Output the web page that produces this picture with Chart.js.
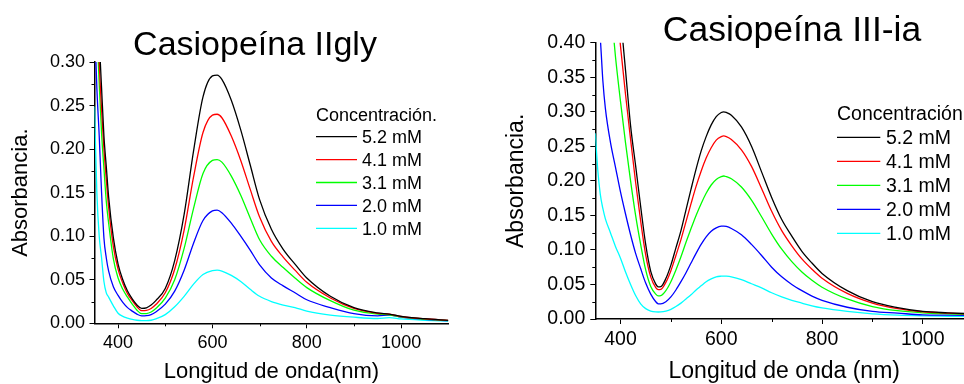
<!DOCTYPE html>
<html>
<head>
<meta charset="utf-8">
<script src="https://cdn.jsdelivr.net/npm/chart.js@4.4.1/dist/chart.umd.min.js"></script>
<style>
  html, body { margin: 0; padding: 0; background: #fff; overflow: hidden; }
  #boxLeft { position: absolute; left: 0; top: 0; }
  #boxRight { position: absolute; left: 482px; top: 0; }
</style>
</head>
<body>
<div id="boxLeft"><canvas id="chartLeft" width="482" height="384"></canvas></div>
<div id="boxRight"><canvas id="chartRight" width="510" height="384"></canvas></div>
<script>
// ---- data ----
const concLabels = ['5.2 mM', '4.1 mM', '3.1 mM', '2.0 mM', '1.0 mM'];
const lineColors = ['#000000', '#ff0000', '#00ff00', '#0000ff', '#00ffff'];
const xTickValues = [400, 600, 800, 1000];

// Casiopeina IIgly
const waveIIgly = [350, 355, 360, 365, 370, 375, 380, 390, 400, 410, 420, 430, 440, 450, 460, 470, 480, 500, 520, 540,
  560, 580, 600, 610, 620, 640, 660, 680, 700, 725, 750, 775, 800, 850, 900, 950, 975, 1000, 1050, 1100];
const iigly52 = [0.50, 0.42, 0.33, 0.27, 0.215, 0.18, 0.145, 0.098, 0.068, 0.050, 0.037, 0.028, 0.021, 0.0172, 0.0178, 0.021, 0.026, 0.040, 0.072, 0.125,
  0.198, 0.260, 0.284, 0.285, 0.280, 0.256, 0.222, 0.182, 0.142, 0.108, 0.085, 0.068, 0.052, 0.031, 0.018, 0.012, 0.0105, 0.008, 0.0053, 0.0033];
const iigly41 = [0.45, 0.38, 0.30, 0.245, 0.200, 0.165, 0.133, 0.088, 0.062, 0.046, 0.034, 0.026, 0.019, 0.0145, 0.0148, 0.017, 0.0215, 0.035, 0.062, 0.107,
  0.168, 0.219, 0.239, 0.240, 0.236, 0.215, 0.187, 0.154, 0.122, 0.094, 0.076, 0.061, 0.047, 0.029, 0.017, 0.0115, 0.0105, 0.0078, 0.0052, 0.0033];
const iigly31 = [0.42, 0.34, 0.275, 0.218, 0.178, 0.140, 0.115, 0.074, 0.052, 0.039, 0.030, 0.022, 0.015, 0.011, 0.0112, 0.013, 0.017, 0.029, 0.050, 0.086,
  0.132, 0.172, 0.187, 0.188, 0.185, 0.169, 0.147, 0.121, 0.096, 0.077, 0.064, 0.052, 0.041, 0.026, 0.015, 0.0105, 0.0098, 0.0073, 0.0048, 0.003];
const iigly20 = [0.35, 0.27, 0.215, 0.15, 0.098, 0.075, 0.060, 0.042, 0.032, 0.024, 0.018, 0.014, 0.0105, 0.0085, 0.0087, 0.010, 0.013, 0.022, 0.037, 0.061,
  0.092, 0.118, 0.129, 0.130, 0.127, 0.115, 0.100, 0.084, 0.067, 0.052, 0.043, 0.035, 0.027, 0.018, 0.011, 0.0085, 0.0095, 0.007, 0.0045, 0.003];
const iigly10 = [0.249, 0.15, 0.10, 0.075, 0.048, 0.035, 0.030, 0.020, 0.0115, 0.008, 0.006, 0.0045, 0.0035, 0.003, 0.003, 0.0035, 0.005, 0.010, 0.019, 0.031,
  0.045, 0.056, 0.0605, 0.061, 0.060, 0.055, 0.048, 0.039, 0.031, 0.025, 0.021, 0.018, 0.014, 0.0095, 0.007, 0.0055, 0.0065, 0.005, 0.0035, 0.0025];

// Casiopeina III-ia
const waveIIIia = [350, 355, 360, 365, 370, 380, 390, 400, 410, 420, 430, 440, 450, 460, 470, 475, 480, 490, 500, 510,
  520, 530, 540, 550, 560, 570, 580, 590, 600, 605, 610, 620, 640, 660, 680, 700, 720, 740, 760, 780,
  800, 850, 900, 950, 1000, 1050, 1100];
const iiiia52 = [0.85, 0.81, 0.77, 0.73, 0.69, 0.61, 0.53, 0.44, 0.36, 0.28, 0.222, 0.163, 0.108, 0.069, 0.0505, 0.0465, 0.0468, 0.0585, 0.078, 0.103,
  0.128, 0.158, 0.188, 0.217, 0.243, 0.264, 0.281, 0.293, 0.299, 0.300, 0.299, 0.295, 0.278, 0.250, 0.213, 0.176, 0.144, 0.120, 0.098, 0.081,
  0.066, 0.041, 0.025, 0.0165, 0.011, 0.009, 0.0075];
const iiiia41 = [0.80, 0.76, 0.72, 0.68, 0.64, 0.56, 0.475, 0.395, 0.325, 0.26, 0.198, 0.142, 0.093, 0.061, 0.0455, 0.0425, 0.0428, 0.053, 0.070, 0.092,
  0.115, 0.141, 0.167, 0.192, 0.214, 0.233, 0.248, 0.259, 0.264, 0.265, 0.264, 0.260, 0.245, 0.221, 0.189, 0.156, 0.128, 0.106, 0.087, 0.072,
  0.059, 0.037, 0.023, 0.015, 0.0105, 0.0085, 0.007];
const iiiia31 = [0.70, 0.66, 0.62, 0.58, 0.54, 0.46, 0.38, 0.315, 0.255, 0.200, 0.150, 0.108, 0.071, 0.047, 0.036, 0.0335, 0.0338, 0.041, 0.054, 0.071,
  0.090, 0.111, 0.131, 0.150, 0.167, 0.182, 0.194, 0.202, 0.206, 0.207, 0.206, 0.203, 0.191, 0.172, 0.148, 0.123, 0.101, 0.083, 0.068, 0.056,
  0.046, 0.029, 0.018, 0.012, 0.009, 0.0075, 0.0065];
const iiiia20 = [0.47, 0.44, 0.405, 0.345, 0.305, 0.256, 0.22, 0.184, 0.152, 0.122, 0.095, 0.073, 0.052, 0.036, 0.025, 0.022, 0.0218, 0.025, 0.032, 0.042,
  0.054, 0.067, 0.081, 0.095, 0.108, 0.119, 0.127, 0.132, 0.1345, 0.1346, 0.134, 0.131, 0.122, 0.108, 0.092, 0.075, 0.061, 0.050, 0.041, 0.033,
  0.027, 0.017, 0.011, 0.0085, 0.006, 0.0055, 0.005];
const iiiia10 = [0.269, 0.215, 0.18, 0.16, 0.145, 0.125, 0.105, 0.088, 0.068, 0.050, 0.034, 0.022, 0.015, 0.0115, 0.0102, 0.0101, 0.0102, 0.0115, 0.014, 0.018,
  0.023, 0.029, 0.035, 0.042, 0.048, 0.054, 0.058, 0.061, 0.062, 0.0622, 0.062, 0.061, 0.057, 0.051, 0.045, 0.038, 0.032, 0.027, 0.023, 0.019,
  0.016, 0.011, 0.0075, 0.0055, 0.0045, 0.004, 0.0035];

const FONT = "'Liberation Sans', Arial, sans-serif";

// title, legend and the small minor ticks, Origin style
const decorPlugin = {
  id: 'decor',
  afterDraw(chart, args, o) {
    const ctx = chart.ctx;
    const xs = chart.scales.x, ys = chart.scales.y;
    ctx.save();
    ctx.fillStyle = '#000';
    ctx.font = o.titleSize + 'px ' + FONT;
    ctx.textAlign = 'center';
    ctx.textBaseline = 'alphabetic';
    ctx.fillText(o.title, o.titleX, o.titleY);

    ctx.strokeStyle = '#000';
    ctx.lineWidth = 1;
    o.minorX.forEach(v => {
      const px = Math.round(xs.getPixelForValue(v)) + 0.5;
      ctx.beginPath(); ctx.moveTo(px, xs.top); ctx.lineTo(px, xs.top + 3); ctx.stroke();
    });
    o.minorY.forEach(v => {
      const py = Math.round(ys.getPixelForValue(v)) + 0.5;
      ctx.beginPath(); ctx.moveTo(ys.right - 3, py); ctx.lineTo(ys.right, py); ctx.stroke();
    });

    // legend
    const lg = o.legend;
    const cap = lg.size * 0.36;
    ctx.font = lg.size + 'px ' + FONT;
    ctx.textAlign = 'left';
    ctx.fillText(lg.title, lg.x, lg.titleY + cap);
    chart.data.datasets.forEach((ds, i) => {
      const y = lg.rowY + i * lg.gap;
      ctx.strokeStyle = ds.borderColor;
      ctx.lineWidth = 1.3;
      ctx.beginPath(); ctx.moveTo(lg.x, y); ctx.lineTo(lg.x + lg.len, y); ctx.stroke();
      ctx.fillText(ds.label, lg.x + lg.len + lg.pad, y + cap);
    });
    ctx.restore();
  }
};

function makeSets(wave, series) {
  return series.map((vals, i) => ({
    label: concLabels[i],
    data: vals.map((v, k) => ({x: wave[k], y: v})),
    borderColor: lineColors[i],
    borderWidth: 1.3,
    pointRadius: 0,
    cubicInterpolationMode: 'monotone',
    fill: false
  }));
}

function makeOptions(c) {
  return {
    responsive: false,
    animation: false,
    layout: {padding: c.pad},
    plugins: {
      legend: {display: false},
      tooltip: {enabled: false},
      decor: c.decor
    },
    scales: {
      x: {
        type: 'linear', min: 350, max: 1100,
        afterBuildTicks: s => { s.ticks = xTickValues.map(v => ({value: v})); },
        afterFit: s => { s.height = c.xHeight; },
        border: {display: true, color: '#000', width: 1.5},
        grid: {drawOnChartArea: false, drawTicks: true, tickLength: 5, color: '#000'},
        ticks: {color: '#000', padding: c.xPad, font: {family: FONT, size: c.tickSize}, maxRotation: 0,
                callback: v => String(v)},
        title: {display: true, text: c.xTitle, color: '#000', font: {family: FONT, size: c.axisSize, lineHeight: 1},
                padding: {top: 0, bottom: 1}}
      },
      y: {
        min: 0, max: c.yMax,
        afterFit: s => { s.width = c.yWidth; },
        border: {display: true, color: '#000', width: 1.5},
        grid: {drawOnChartArea: false, drawTicks: true, tickLength: 5, color: '#000'},
        ticks: {stepSize: 0.05, color: '#000', padding: c.yPad, font: {family: FONT, size: c.tickSize},
                callback: v => Number(v).toFixed(2)},
        title: {display: true, text: 'Absorbancia.', color: '#000', font: {family: FONT, size: c.axisSize, lineHeight: 1.2},
                padding: {top: c.yTitlePad, bottom: 0}}
      }
    }
  };
}

new Chart(document.getElementById('chartLeft'), {
  type: 'line',
  data: {datasets: makeSets(waveIIgly, [iigly52, iigly41, iigly31, iigly20, iigly10])},
  options: makeOptions({
    pad: {left: 0, top: 62, right: 33.7, bottom: 0},
    xHeight: 60.7, yWidth: 94.5, yMax: 0.30,
    tickSize: 18, axisSize: 22, xPad: 4, yPad: 4.5, yTitlePad: 8,
    xTitle: 'Longitud de onda(nm)',
    decor: {
      title: 'Casiopeína IIgly', titleSize: 34, titleX: 255, titleY: 55,
      minorX: [500, 700, 900],
      minorY: [0.025, 0.075, 0.125, 0.175, 0.225, 0.275],
      legend: {title: 'Concentración.', size: 18, x: 316, titleY: 115, rowY: 136.7, gap: 22.9, len: 41, pad: 5}
    }
  }),
  plugins: [decorPlugin]
});

new Chart(document.getElementById('chartRight'), {
  type: 'line',
  data: {datasets: makeSets(waveIIIia, [iiiia52, iiiia41, iiiia31, iiiia20, iiiia10])},
  options: makeOptions({
    pad: {left: 0, top: 42.7, right: 18.8, bottom: 0},
    xHeight: 65, yWidth: 113.3, yMax: 0.40,
    tickSize: 19.5, axisSize: 23, xPad: 4, yPad: 5, yTitlePad: 21,
    xTitle: 'Longitud de onda (nm)',
    decor: {
      title: 'Casiopeína III-ia', titleSize: 35.5, titleX: 310, titleY: 40.7,
      minorX: [500, 700, 900, 1100],
      minorY: [0.025, 0.075, 0.125, 0.175, 0.225, 0.275, 0.325, 0.375],
      legend: {title: 'Concentración', size: 19.5, x: 355, titleY: 113, rowY: 137.3, gap: 24, len: 43.3, pad: 5.7}
    }
  }),
  plugins: [decorPlugin]
});
</script>
</body>
</html>
